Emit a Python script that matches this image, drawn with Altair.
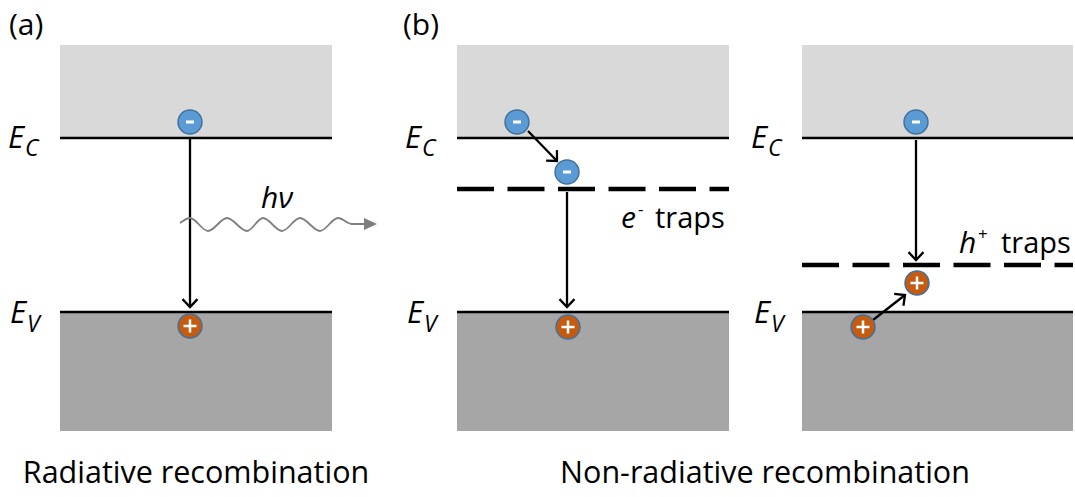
import math

import altair as alt
import pandas as pd

W, H = 1075, 497

# ---- band diagram geometry (diagram units, y grows downward) ----
panel_left = [60, 457, 802]
panel_right = [332, 729, 1073]
band_top = 45          # top of the conduction-band fill
ec_level = 138         # conduction band edge E_C
ev_level = 312         # valence band edge E_V
band_bottom = 431      # bottom of the valence-band fill

# trap levels drawn as dashed lines in panel (b)
trap_panel = [1, 2]
trap_level = [189, 265]

# carriers
electron_x = [190, 517, 567, 916]
electron_y = [122, 122, 172, 122]
hole_x = [190, 568, 917, 863]
hole_y = [326, 327, 283, 327]

# transitions: start point and arrow tip
arrow_x1 = [190, 528, 567, 916, 873]
arrow_y1 = [138, 131, 192, 140, 320]
arrow_x2 = [190, 557, 567, 916, 905]
arrow_y2 = [307, 161, 307, 260, 295]

# emitted photon: crests and troughs of the wavy line
wave_x = [180, 190, 208, 227, 247, 263, 282, 300, 320, 338, 352, 364]
wave_y = [223, 218, 231, 218, 231, 218, 231, 218, 231, 218, 224, 224]
photon_tip = (377, 224)

# ---- text ----
panel_tags = ["(a)", "(b)"]
panel_tag_x = [9, 403]
captions = ["Radiative recombination", "Non-radiative recombination"]
caption_x = [196, 765]
level_names = ["E", "E", "E", "E", "E", "E"]
level_subs = ["C", "V", "C", "V", "C", "V"]
level_label_x = [8, 10, 405, 407, 751, 754]
level_label_y = [148, 323, 148, 323, 148, 323]
trap_symbol = ["e", "h"]
trap_sign = ["-", "+"]
trap_label_x = [621, 959]
trap_label_y = [228, 253]
trap_word_x = [655, 1001]

# ---- tables ----
bands = pd.DataFrame(
    [dict(x=l, x2=r, y=band_top, y2=ec_level, kind="cb") for l, r in zip(panel_left, panel_right)]
    + [dict(x=l, x2=r, y=ev_level, y2=band_bottom, kind="vb") for l, r in zip(panel_left, panel_right)]
)
levels = pd.DataFrame(
    [dict(x=l, x2=r, y=lv) for l, r in zip(panel_left, panel_right) for lv in (ec_level, ev_level)]
)
traps = pd.DataFrame(
    [dict(x=panel_left[p], x2=panel_right[p], y=t) for p, t in zip(trap_panel, trap_level)]
)
arrows = pd.DataFrame(dict(x=arrow_x1, y=arrow_y1, x2=arrow_x2, y2=arrow_y2))
arrows["angle"] = [
    math.degrees(math.atan2(-(b - a), (d - c))) % 360
    for a, b, c, d in zip(arrow_x1, arrow_x2, arrow_y1, arrow_y2)
]
electrons = pd.DataFrame(dict(x=electron_x, y=electron_y))
holes = pd.DataFrame(dict(x=hole_x, y=hole_y))
wave = pd.DataFrame(dict(x=wave_x, y=wave_y, order=range(len(wave_x))))
photon_head = pd.DataFrame(dict(x=[photon_tip[0]], y=[photon_tip[1]]))

upright = pd.DataFrame(
    [dict(x=x, y=35, text=t, size=30) for t, x in zip(panel_tags, panel_tag_x)]
    + [dict(x=x, y=trap_label_y[i], text="traps", size=29) for i, x in enumerate(trap_word_x)]
)
centred = pd.DataFrame(dict(x=caption_x, y=[483, 483], text=captions, size=[30.5, 30.5]))
italic = pd.DataFrame(
    [dict(x=x, y=y, text=n, size=31) for n, x, y in zip(level_names, level_label_x, level_label_y)]
    + [dict(x=x + 17, y=y + (8 if s == "C" else 9), text=s, size=23)
       for s, x, y in zip(level_subs, level_label_x, level_label_y)]
    + [dict(x=x, y=y, text=s, size=30) for s, x, y in zip(trap_symbol, trap_label_x, trap_label_y)]
    + [dict(x=261, y=208, text="hν", size=30)]
)
superscripts = pd.DataFrame(
    [dict(x=x + (17 if s == "-" else 19), y=y - 13, text=s, size=17)
     for s, x, y in zip(trap_sign, trap_label_x, trap_label_y)]
)

# ---- scales ----
xs = alt.Scale(domain=[0, W], nice=False, zero=False)
ys = alt.Scale(domain=[0, H], nice=False, zero=False, reverse=True)


def X(f="x"):
    return alt.X(f"{f}:Q", scale=xs, axis=None)


def Y(f="y"):
    return alt.Y(f"{f}:Q", scale=ys, axis=None)


band_layer = alt.Chart(bands).mark_rect().encode(
    x=X(), x2="x2:Q", y=Y(), y2="y2:Q",
    color=alt.Color("kind:N", scale=alt.Scale(domain=["cb", "vb"], range=["#d9d9d9", "#a6a6a6"]), legend=None),
)
level_layer = alt.Chart(levels).mark_rule(color="black", strokeWidth=2.6).encode(x=X(), x2="x2:Q", y=Y())
trap_layer = alt.Chart(traps).mark_rule(color="black", strokeWidth=4.5, strokeDash=[37, 13.5]).encode(
    x=X(), x2="x2:Q", y=Y()
)
arrow_layer = alt.Chart(arrows).mark_rule(color="black", strokeWidth=2.3).encode(
    x=X(), y=Y(), x2="x2:Q", y2="y2:Q"
)
arrow_heads = alt.Chart(arrows).mark_point(
    shape="M -1 -1.05 L 0 0 L 1 -1.05", size=225, filled=False, color="black", strokeWidth=2.3, opacity=1
).encode(x=X("x2"), y=Y("y2"), angle=alt.Angle("angle:Q", scale=None))
wave_layer = alt.Chart(wave).mark_line(color="#7f7f7f", strokeWidth=1.8, interpolate="monotone").encode(
    x=X(), y=Y(), order="order:Q"
)
wave_head = alt.Chart(photon_head).mark_point(
    shape="M -1 -0.46 L 0 0 L -1 0.46 Z", size=676, filled=True, color="#7f7f7f", opacity=1
).encode(x=X(), y=Y())

electron_layer = alt.Chart(electrons).mark_circle(
    size=573, color="#5b9bd5", stroke="#41719c", strokeWidth=1.5, opacity=1
).encode(x=X(), y=Y())
minus_layer = alt.Chart(electrons).mark_point(
    shape="M -1 0 L 1 0", size=64, filled=False, color="white", strokeWidth=3, opacity=1
).encode(x=X(), y=Y())
hole_layer = alt.Chart(holes).mark_circle(
    size=573, color="#c55a11", stroke="#41719c", strokeWidth=1.5, opacity=1
).encode(x=X(), y=Y())
plus_layer = alt.Chart(holes).mark_point(
    shape="M -1 0 L 1 0 M 0 -1 L 0 1", size=169, filled=False, color="white", strokeWidth=2.5, opacity=1
).encode(x=X(), y=Y())

text_font = "Open Sans"
upright_layer = alt.Chart(upright).mark_text(
    align="left", baseline="alphabetic", font=text_font, color="black"
).encode(x=X(), y=Y(), text="text:N", size=alt.Size("size:Q", scale=None))
caption_layer = alt.Chart(centred).mark_text(
    align="center", baseline="alphabetic", font=text_font, color="black"
).encode(x=X(), y=Y(), text="text:N", size=alt.Size("size:Q", scale=None))
italic_layer = alt.Chart(italic).mark_text(
    align="left", baseline="alphabetic", font=text_font, fontStyle="italic", color="black"
).encode(x=X(), y=Y(), text="text:N", size=alt.Size("size:Q", scale=None))
sup_layer = alt.Chart(superscripts).mark_text(
    align="left", baseline="alphabetic", font=text_font, color="black"
).encode(x=X(), y=Y(), text="text:N", size=alt.Size("size:Q", scale=None))

chart = alt.layer(
    band_layer, level_layer, trap_layer, arrow_layer, wave_layer, wave_head, arrow_heads,
    electron_layer, minus_layer, hole_layer, plus_layer,
    upright_layer, caption_layer, italic_layer, sup_layer,
).properties(
    width=W, height=H, padding=0, autosize=alt.AutoSizeParams(type="none"), background="white"
).configure_view(stroke=None)

chart.save("out.html", embed_options={"renderer": "svg", "actions": False})
